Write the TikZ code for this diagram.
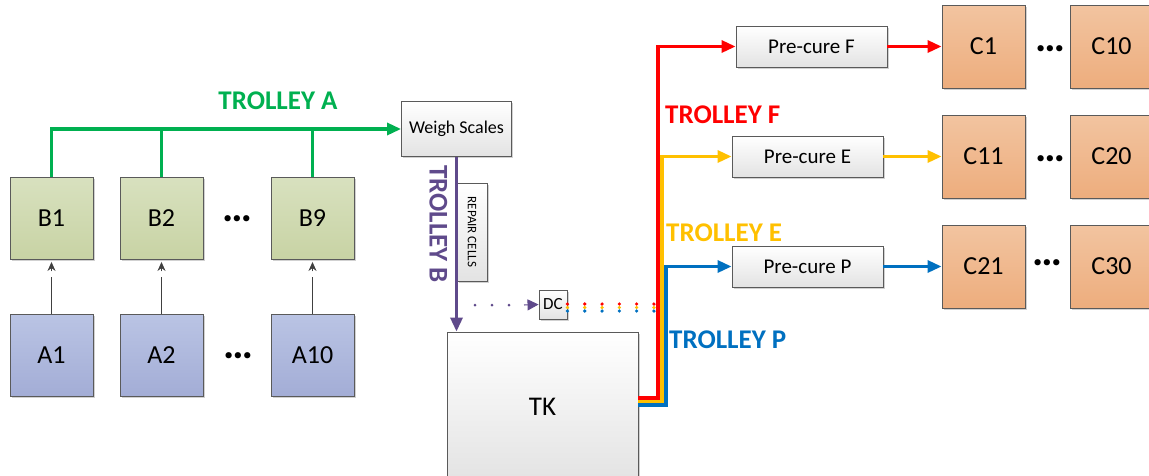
\documentclass[tikz,border=0pt]{standalone}
\usepackage{fontspec}
\setmainfont{Carlito}
\usetikzlibrary{arrows.meta,shadows,calc}
\definecolor{tgreen}{HTML}{00B050}
\definecolor{tred}{HTML}{FF0000}
\definecolor{tyellow}{HTML}{FFC000}
\definecolor{tblue}{HTML}{0070C0}
\definecolor{tpurple}{HTML}{5F4A8B}
\definecolor{edgegray}{HTML}{5A5A5A}
\definecolor{arrgray}{HTML}{404040}
\definecolor{btop}{HTML}{D8E1BF}
\definecolor{bbot}{HTML}{C8D3A4}
\definecolor{atop}{HTML}{BAC4E4}
\definecolor{abot}{HTML}{A3ADD6}
\definecolor{ctop}{HTML}{F2C4A0}
\definecolor{cbot}{HTML}{EDAD7D}
\tikzset{
  fs/.style={font=\fontsize{#1}{#1}\selectfont},
  basebox/.style={draw=edgegray, line width=0.9pt, inner sep=0pt,
    drop shadow={shadow xshift=1.6pt, shadow yshift=-1.6pt, fill=black, opacity=0.18}},
  gbox/.style={basebox, top color=white, bottom color=black!11},
  bbox/.style={basebox, top color=btop, bottom color=bbot,
    minimum width=83pt, minimum height=82pt, fs=26},
  abox/.style={basebox, top color=atop, bottom color=abot,
    minimum width=83pt, minimum height=82pt, fs=26},
  cbox/.style={basebox, top color=ctop, bottom color=cbot,
    minimum width=83pt, minimum height=83pt, fs=26},
  pbox/.style={gbox, minimum width=151pt, minimum height=41pt, fs=21},
  ell/.style={font=\fontsize{42}{42}\selectfont\bfseries, inner sep=0pt},
  tlabel/.style={font=\fontsize{27}{27}\selectfont\bfseries, inner sep=0pt},
  thick3/.style={line width=3.2pt},
  bigtip/.style={-{Triangle[length=14pt,width=12pt]}},
  smalltip/.style={-{Stealth[length=9pt,width=8pt]}},
  dots/.style={line width=3.6pt, line cap=round, dash pattern=on 0pt off 17.3pt},
}
\begin{document}
\begin{tikzpicture}[x=1pt,y=-1pt]
\useasboundingbox (0,0) rectangle (1149,475);

% A and B rows
\node[bbox] (B1) at (51.5,218) {B1};
\node[bbox] (B2) at (161.5,218) {B2};
\node[bbox] (B9) at (312.5,218) {B9};
\node[abox] (A1) at (51.5,355) {A1};
\node[abox] (A2) at (161.5,355) {A2};
\node[abox] (A10) at (312.5,355) {A10};
\node[ell] (dotsB) at (237,219) {…};
\node[ell] (dotsA) at (238,356) {…};

\foreach \a/\b in {A1/B1,A2/B2,A10/B9}{
  \draw[arrgray, line width=1.1pt] (\a.north) -- ($(\a.north)!0.68!(\b.south)$);
  \draw[arrgray, line width=1.1pt, smalltip, shorten >=2.5pt] ($(\a.north)!0.78!(\b.south)$) -- (\b.south);
}

% weigh scales and trolley A
\node[gbox, minimum width=110pt, minimum height=55pt, fs=18] (WS) at (456.5,129) {Weigh Scales};
\coordinate (gA) at (51.5,129);
\draw[tgreen, thick3, bigtip] (B1.north) |- (WS.west);
\draw[tgreen, thick3] (B2.north) -- (B2.north |- gA);
\draw[tgreen, thick3] (B9.north) -- (B9.north |- gA);
\node[tlabel, text=tgreen] (lA) at (278,101) {TROLLEY A};

% TK, repair, DC
\node[gbox, minimum width=191pt, minimum height=150pt, fs=27] (TK) at (542.5,407) {TK};
\node[gbox, minimum width=30pt, minimum height=98pt] (RC) at (472,232)
  {\rotatebox{-90}{\fontsize{13}{13}\selectfont REPAIR CELLS}};
\node[gbox, minimum width=28pt, minimum height=29pt, fs=17] (DC) at (553,304.5) {DC};
\draw[tpurple, thick3, bigtip] (WS.south) -- (WS.south |- TK.north);
\node[tlabel, text=tpurple, rotate=-90] (lB) at (438.5,224) {TROLLEY B};
\coordinate (pd) at (475,305);
\draw[tpurple, line width=3pt, line cap=round, dash pattern=on 0pt off 17pt] (pd) -- (523,305);
\draw[tpurple, line width=1pt, -{Triangle[length=11pt,width=11pt]}] (524,305) -- (DC.west);

% tricolour dotted line from DC
\draw[tred, dots] (DC.east |- 0,304) -- (657,304);
\draw[tyellow, dots] (DC.east |- 0,307.5) -- (657,307.5);
\draw[tblue, dots] (DC.east |- 0,311) -- (657,311);

% pre-cure boxes
\node[pbox] (PF) at (811.5,46.5) {Pre-cure F};
\node[pbox] (PE) at (807.5,156.5) {Pre-cure E};
\node[pbox] (PP) at (807.5,266.5) {Pre-cure P};

% trolleys from TK
\coordinate (tr) at (658,398);
\coordinate (ty) at (662,401.5);
\coordinate (tb) at (666,405);
\draw[tblue, thick3, bigtip] (TK.east |- tb) -- (tb) |- (PP.west);
\draw[tyellow, thick3, bigtip] (TK.east |- ty) -- (ty) |- (PE.west);
\draw[tred, thick3, bigtip] (TK.east |- tr) -- (tr) |- (PF.west);
\node[tlabel, text=tred, anchor=west] (lF) at (665,115) {TROLLEY F};
\node[tlabel, text=tyellow, anchor=west] (lE) at (666,233) {TROLLEY E};
\node[tlabel, text=tblue, anchor=west] (lP) at (669,340) {TROLLEY P};

% C boxes
\node[cbox] (C1) at (983.5,46.5) {C1};
\node[cbox] (C10) at (1111.5,46.5) {C10};
\node[cbox] (C11) at (983.5,156.5) {C11};
\node[cbox] (C20) at (1111.5,156.5) {C20};
\node[cbox] (C21) at (983.5,266.5) {C21};
\node[cbox] (C30) at (1111.5,266.5) {C30};
\node[ell] (dC1) at (1050,49) {…};
\node[ell] (dC2) at (1050,159) {…};
\node[ell] (dC3) at (1047,263) {…};

\draw[tred, thick3, bigtip] (PF.east) -- (C1.west);
\draw[tyellow, thick3, bigtip] (PE.east) -- (C11.west);
\draw[tblue, thick3, bigtip] (PP.east) -- (C21.west);
\end{tikzpicture}
\end{document}
